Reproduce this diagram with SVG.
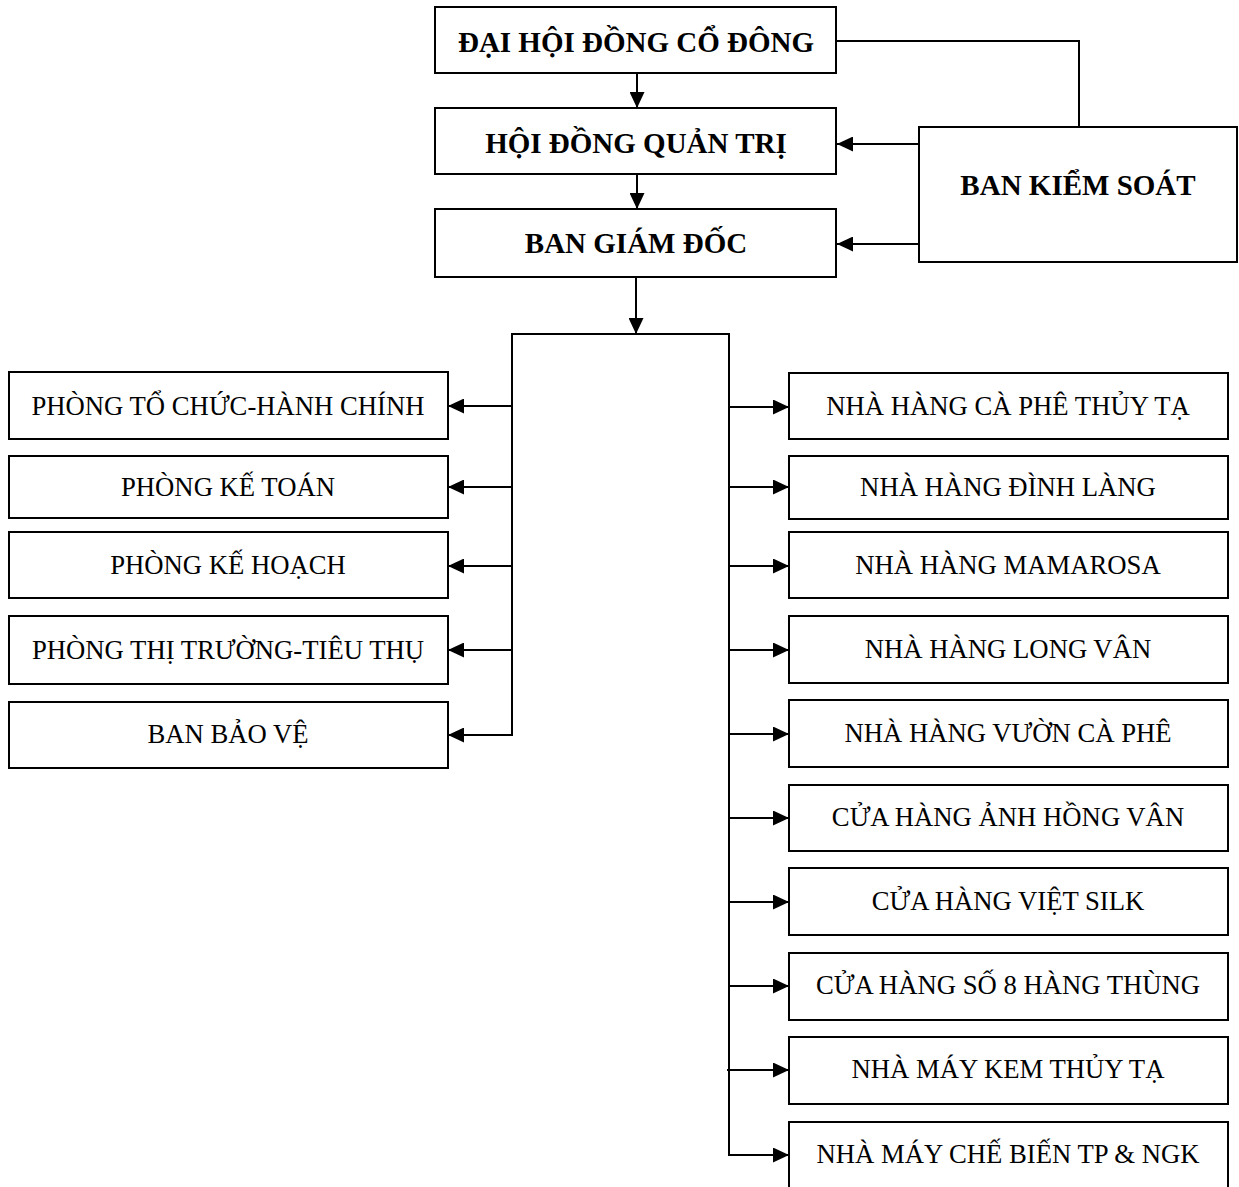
<svg xmlns="http://www.w3.org/2000/svg" width="1239" height="1187" viewBox="0 0 1239 1187">
<style>
.box{fill:#fff;stroke:#000;stroke-width:2}
.b{font-family:"Liberation Serif","Times New Roman",serif;font-weight:bold;font-size:29px;text-anchor:middle;fill:#000}
.t{font-family:"Liberation Serif","Times New Roman",serif;font-size:26.7px;text-anchor:middle;fill:#000}
.c{fill:none;stroke:#000;stroke-width:2}
</style>
<defs>
<marker id="ah" viewBox="0 0 16 15" refX="16" refY="7.5" markerWidth="16" markerHeight="15" markerUnits="userSpaceOnUse" orient="auto">
<path d="M0,0 L16,7.5 L0,15 Z" fill="#000"/>
</marker>
</defs>
<rect width="1239" height="1187" fill="#fff"/>
<g id="connectors">
<path class="c" d="M836,41 H1079 V127"/>
<path class="c" d="M919,144 H837" marker-end="url(#ah)"/>
<path class="c" d="M919,244 H837" marker-end="url(#ah)"/>
<path class="c" d="M637,73 V108" marker-end="url(#ah)"/>
<path class="c" d="M637,174 V209" marker-end="url(#ah)"/>
<path class="c" d="M636,277 V334" marker-end="url(#ah)"/>
<path class="c" d="M512,735 V334 H729 V1155"/>
<path class="c" d="M512,406 H448" marker-end="url(#ah)"/>
<path class="c" d="M512,487 H448" marker-end="url(#ah)"/>
<path class="c" d="M512,566 H448" marker-end="url(#ah)"/>
<path class="c" d="M512,650 H448" marker-end="url(#ah)"/>
<path class="c" d="M513,735 H448" marker-end="url(#ah)"/>
<path class="c" d="M729,407 H789" marker-end="url(#ah)"/>
<path class="c" d="M729,487 H789" marker-end="url(#ah)"/>
<path class="c" d="M729,566 H789" marker-end="url(#ah)"/>
<path class="c" d="M729,650 H789" marker-end="url(#ah)"/>
<path class="c" d="M729,734 H789" marker-end="url(#ah)"/>
<path class="c" d="M729,818 H789" marker-end="url(#ah)"/>
<path class="c" d="M729,902 H789" marker-end="url(#ah)"/>
<path class="c" d="M729,986 H789" marker-end="url(#ah)"/>
<path class="c" d="M727,1070 H789" marker-end="url(#ah)"/>
<path class="c" d="M728,1155 H789" marker-end="url(#ah)"/>
</g>
<g id="dhdcd"><rect class="box" x="435" y="7" width="401" height="66"/><text class="b" x="636" y="52">ĐẠI HỘI ĐỒNG CỔ ĐÔNG</text></g>
<g id="hdqt"><rect class="box" x="435" y="108" width="401" height="66"/><text class="b" x="636" y="153">HỘI ĐỒNG QUẢN TRỊ</text></g>
<g id="bgd"><rect class="box" x="435" y="209" width="401" height="68"/><text class="b" x="636" y="253">BAN GIÁM ĐỐC</text></g>
<g id="bks"><rect class="box" x="919" y="127" width="318" height="135"/><text class="b" x="1078" y="195">BAN KIỂM SOÁT</text></g>
<g id="l1"><rect class="box" x="9" y="372" width="439" height="67"/><text class="t" x="228" y="415">PHÒNG TỔ CHỨC-HÀNH CHÍNH</text></g>
<g id="l2"><rect class="box" x="9" y="456" width="439" height="62"/><text class="t" x="228" y="496">PHÒNG KẾ TOÁN</text></g>
<g id="l3"><rect class="box" x="9" y="532" width="439" height="66"/><text class="t" x="228" y="574">PHÒNG KẾ HOẠCH</text></g>
<g id="l4"><rect class="box" x="9" y="616" width="439" height="68"/><text class="t" x="228" y="659">PHÒNG THỊ TRƯỜNG-TIÊU THỤ</text></g>
<g id="l5"><rect class="box" x="9" y="702" width="439" height="66"/><text class="t" x="228" y="743">BAN  BẢO VỆ</text></g>
<g id="r1"><rect class="box" x="789" y="373" width="439" height="66"/><text class="t" x="1008" y="415">NHÀ HÀNG CÀ PHÊ THỦY TẠ</text></g>
<g id="r2"><rect class="box" x="789" y="456" width="439" height="63"/><text class="t" x="1008" y="496">NHÀ HÀNG ĐÌNH LÀNG</text></g>
<g id="r3"><rect class="box" x="789" y="532" width="439" height="66"/><text class="t" x="1008" y="574">NHÀ HÀNG MAMAROSA</text></g>
<g id="r4"><rect class="box" x="789" y="616" width="439" height="67"/><text class="t" x="1008" y="658">NHÀ HÀNG LONG VÂN</text></g>
<g id="r5"><rect class="box" x="789" y="700" width="439" height="67"/><text class="t" x="1008" y="742">NHÀ HÀNG VƯỜN CÀ PHÊ</text></g>
<g id="r6"><rect class="box" x="789" y="785" width="439" height="66"/><text class="t" x="1008" y="826">CỬA HÀNG ẢNH HỒNG VÂN</text></g>
<g id="r7"><rect class="box" x="789" y="868" width="439" height="67"/><text class="t" x="1008" y="910">CỬA HÀNG VIỆT SILK</text></g>
<g id="r8"><rect class="box" x="789" y="953" width="439" height="67"/><text class="t" x="1008" y="994">CỬA HÀNG SỐ 8 HÀNG THÙNG</text></g>
<g id="r9"><rect class="box" x="789" y="1037" width="439" height="67"/><text class="t" x="1008" y="1078">NHÀ MÁY KEM THỦY TẠ</text></g>
<g id="r10"><rect class="box" x="789" y="1122" width="439" height="70"/><text class="t" x="1008" y="1163">NHÀ MÁY CHẾ BIẾN TP &amp; NGK</text></g>
</svg>
